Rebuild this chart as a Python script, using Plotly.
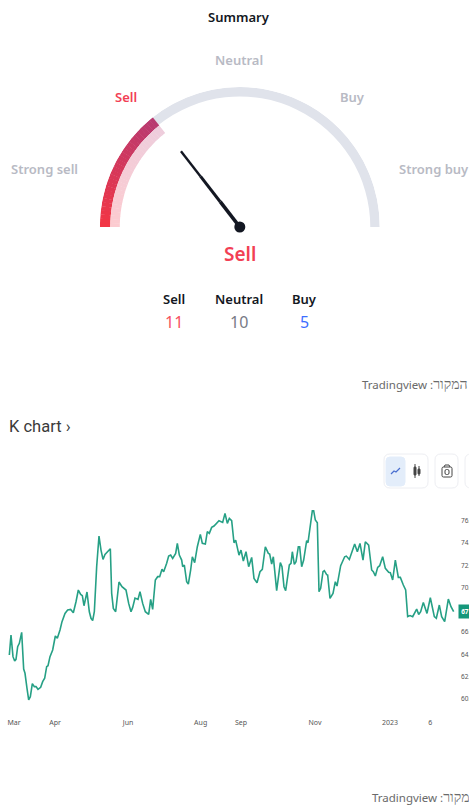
import numpy as np
import plotly.graph_objects as go

W, H = 469, 806

# ---- data ----
gauge_labels = ["Strong sell", "Sell", "Neutral", "Buy", "Strong buy"]
gauge_fill = 0.286      # share of the dial that is lit
needle_value = 0.29     # share of the dial at the needle
verdict = "Sell"
count_labels = ["Sell", "Neutral", "Buy"]
count_values = [11, 10, 5]

session = [28,33,39,44,48,53,58,65,71,75,81,86,91,97,103,108,114,122,128,134,140,144,150,158,166,172,180,186,195,203,
           212,220,228,235,242,247,252,261,268,273,278,283,290,297,303,309,315,322,331,335,340,347,357,366,378,386,393,398,405,414,
           420,428,436,446,452,458,466,473,479,486,491,500,506,512,518,527,532,538,545,548,553,560,565,572,577,584,592,601,607,616,
           622,628,635,642,650,657,668,675,682,688,695,702,
           707,713,717,723,730,738,746,755,762,771,780,787,796,805,809,815,820,830,841,846,852,857,868,873,877,883,888,895,899,905,
           911,920,924,937,941,946,952,957,962,969,973,980,983,990,999,1006,1011,1022,1034,1039,1048,1056,1064,1072,1080,1089,1096,1106,1115,1120,
           1126,1133,1139,1148,1156,1166,1171,1178,1186,1195,1201,1210,1217,1223,1230,1238,1250,1256,1262,1270,1281,1291,1303,1309,1318,1325,1334,1345,1353,1361]
price = [63.95,65.75,63.80,63.41,63.56,64.70,65.00,65.99,62.69,62.31,60.96,59.91,60.21,61.38,61.11,61.11,60.87,61.05,61.56,61.86,62.90,62.99,63.80,64.40,65.66,65.45,66.20,66.95,67.69,67.99,
         68.05,67.75,68.74,69.79,69.40,69.28,68.38,69.61,67.84,67.25,67.04,67.84,71.89,74.64,73.38,72.54,72.99,73.23,73.50,69.49,68.14,67.84,70.51,70.09,69.79,68.59,67.84,68.23,69.07,68.95,
         69.64,68.59,67.84,67.60,68.95,68.05,70.69,70.99,70.99,71.65,71.44,72.19,72.84,72.93,72.63,73.08,73.98,72.93,72.48,71.89,72.04,70.54,70.33,71.59,72.78,72.25,73.68,74.79,73.98,73.92,
         75.03,74.88,75.42,75.54,75.78,76.02,75.87,76.68,75.78,76.23,76.02,74.04,
         74.28,73.38,72.93,73.38,72.40,73.23,71.89,72.72,70.84,70.45,71.44,71.65,73.68,73.08,73.02,72.13,72.78,69.73,72.25,71.89,70.09,69.73,72.04,72.19,73.23,72.10,72.34,73.68,73.68,71.89,
         72.48,74.22,74.04,76.92,76.92,76.08,75.84,69.64,69.94,71.44,71.53,71.17,71.14,69.04,69.49,70.54,70.15,71.98,72.78,72.84,72.54,73.23,73.92,73.23,73.98,72.48,74.13,73.83,71.59,71.44,
         71.05,71.83,71.98,72.78,71.74,71.38,71.35,70.69,72.48,70.93,70.93,70.24,69.79,67.40,67.49,67.40,68.08,67.60,67.84,68.68,67.69,69.10,67.40,67.25,68.44,67.40,66.95,68.98,68.29,67.84]
assert len(session) == len(price), (len(session), len(price))

date_ticks = [42, 165, 384, 602, 723, 945, 1170, 1291]
date_labels = ["Mar", "Apr", "Jun", "Aug", "Sep", "Nov", "2023", "6"]
price_ticks = [60, 62, 64, 66, 70, 72, 74, 76]
price_labels = ["60.", "62.", "64.", "66.", "70.", "72.", "74.", "76."]
source_text = 'Tradingview :<span style="font-size:14px">המקור</span>'

# ---- helpers ----
FONT = "Noto Sans"
px = lambda v: v / W
py = lambda v: 1 - v / H

def mix(a, b, t):
    return "rgb(%d,%d,%d)" % tuple(round(a[i] + (b[i] - a[i]) * t) for i in range(3))

fig = go.Figure()

# ---- gauge ----
lit_deg = 180 * gauge_fill
edges = np.linspace(0, lit_deg, 31)
centers = 180 - (edges[:-1] + edges[1:]) / 2
seg_w = edges[1] - edges[0] + 0.15
ts = np.linspace(0, 1, 30)
fig.add_trace(go.Barpolar(theta=[(180 - lit_deg) / 2], r=[9.5], base=[130.5], width=[180 - lit_deg],
                          marker=dict(color="#E0E3EB", line_width=0), hoverinfo="skip", subplot="polar"))
fig.add_trace(go.Barpolar(theta=centers, r=[10.5] * 30, base=[129.5] * 30, width=[seg_w] * 30,
                          marker=dict(color=[mix((242, 54, 69), (184, 58, 112), t) for t in ts], line_width=0),
                          hoverinfo="skip", subplot="polar"))
fig.add_trace(go.Barpolar(theta=centers, r=[9.5] * 30, base=[120] * 30, width=[seg_w] * 30,
                          marker=dict(color=[mix((252, 203, 208), (238, 205, 220), t) for t in ts], line_width=0),
                          hoverinfo="skip", subplot="polar"))
needle_theta = 180 * (1 - needle_value)
for r0, r1, w in [(0, 32, 3.6), (32, 64, 3.0), (64, 96, 2.4)]:
    fig.add_trace(go.Scatterpolar(r=[r0, r1], theta=[needle_theta] * 2, mode="lines",
                                  line=dict(color="#131722", width=w), cliponaxis=False,
                                  hoverinfo="skip", subplot="polar"))
fig.add_trace(go.Scatterpolar(r=[0], theta=[needle_theta], mode="markers",
                              marker=dict(color="#131722", size=11), cliponaxis=False,
                              hoverinfo="skip", subplot="polar"))

# ---- price line ----
fig.add_trace(go.Scatter(x=session, y=price, mode="lines", xaxis="x", yaxis="y",
                         line=dict(color="#26A085", width=1.6), hoverinfo="skip"))

def text(x, y, s, size, color, weight=400, anchor="center", family=FONT):
    return dict(x=px(x), y=py(y), xref="paper", yref="paper", text=s, showarrow=False,
                xanchor=anchor, yanchor="middle",
                font=dict(family=family, size=size, color=color, weight=weight))

ann = [text(239, 17, "Summary", 13, "#131722", 600)]
gauge_pos = [(44, 169), (125.5, 97), (239, 60), (352, 97), (434, 169)]
for (x, y), s in zip(gauge_pos, gauge_labels):
    ann.append(text(x, y, s, 13, "#F23F55" if s == verdict else "#B8BAC4", 600))
ann.append(text(239.5, 254, verdict, 19, "#F23F55", 600))
count_colors = ["#F7525F", "#787B86", "#3D6EFF"]
for x, s, v, c in zip([174, 239, 304], count_labels, count_values, count_colors):
    ann.append(text(x, 299, s, 13, "#131722", 600))
    ann.append(text(x, 322, str(v), 16, c, 400))
ann.append(text(360, 383, source_text, 11.5, "#6A6A6A", 400, "left"))
ann.append(text(370, 796.5, source_text, 11.5, "#6A6A6A", 400, "left"))
ann.append(text(6.5, 427, "K chart ›", 16.5, "#3A3A3A", 400, "left", "Roboto"))
ann.append(dict(x=px(457.5), y=price[-1], xref="paper", yref="y", text="<b>67</b>", showarrow=False,
                xanchor="left", yanchor="middle", bgcolor="#15977A", borderpad=2, width=8, height=9,
                align="center", font=dict(family=FONT, size=6.5, color="white")))

def rrect(x0, y0, x1, y1, r, fill, line):
    X0, X1 = px(x0), px(x1); Y0, Y1 = py(y0), py(y1)
    rx, ry = r / W, r / H
    path = (f"M{X0+rx},{Y0} L{X1-rx},{Y0} Q{X1},{Y0} {X1},{Y0-ry} L{X1},{Y1+ry} Q{X1},{Y1} {X1-rx},{Y1} "
            f"L{X0+rx},{Y1} Q{X0},{Y1} {X0},{Y1+ry} L{X0},{Y0-ry} Q{X0},{Y0} {X0+rx},{Y0} Z")
    return dict(type="path", xref="paper", yref="paper", path=path, fillcolor=fill,
                line=dict(color=line, width=1))

def pline(points, color, width):
    path = "M" + " L".join(f"{px(a)},{py(b)}" for a, b in points)
    return dict(type="path", xref="paper", yref="paper", path=path, line=dict(color=color, width=width))

shapes = [
    rrect(384, 454, 428, 488, 6, "white", "#EDEEF2"),
    rrect(386, 457, 405, 486, 4, "#E3EDFA", "#E3EDFA"),
    rrect(435, 454, 458, 488, 6, "white", "#EDEEF2"),
    rrect(465, 454, 480, 488, 6, "white", "#EDEEF2"),
    pline([(391, 474), (394, 471), (396, 472), (400, 468)], "#4A6FD0", 1.2),
    pline([(415, 464), (415, 478)], "#444", 1),
    pline([(419, 466), (419, 476)], "#444", 1),
    rrect(414, 467, 416, 475, 0.5, "#444", "#444"),
    rrect(418, 469, 420, 474, 0.5, "#444", "#444"),
    rrect(442, 467, 452, 477, 1.5, "white", "#444"),
    pline([(444, 467), (445, 465), (449, 465), (450, 467)], "#444", 1),
    rrect(445, 469.5, 449, 474.5, 1.5, "white", "#444"),
]

fig.update_layout(
    width=W, height=H, margin=dict(l=0, r=0, t=0, b=0), autosize=False,
    paper_bgcolor="white", plot_bgcolor="white", showlegend=False,
    annotations=ann, shapes=shapes,
    polar=dict(domain=dict(x=[px(99.6), px(380)], y=[py(227), py(87)]),
               sector=[0, 180], bgcolor="rgba(0,0,0,0)", barmode="overlay",
               radialaxis=dict(visible=False, range=[0, 140]),
               angularaxis=dict(visible=False, direction="counterclockwise", rotation=0)),
    xaxis=dict(domain=[0, px(458)], range=[0, 1374], tickvals=date_ticks, ticktext=date_labels,
               showgrid=False, zeroline=False, showline=False, ticks="", ticklabelstandoff=2,
               tickfont=dict(family=FONT, size=7, color="#555")),
    yaxis=dict(domain=[py(715), py(500)], range=[58.56, 77.88], side="right", anchor="x",
               tickvals=price_ticks, ticktext=price_labels, ticklabelstandoff=2,
               showgrid=False, zeroline=False, showline=False, ticks="",
               tickfont=dict(family=FONT, size=6.5, color="#555")),
)
fig.write_html("out.html", config=dict(displayModeBar=False),
               post_script="document.body.style.margin='0';document.documentElement.style.overflow='hidden';")
